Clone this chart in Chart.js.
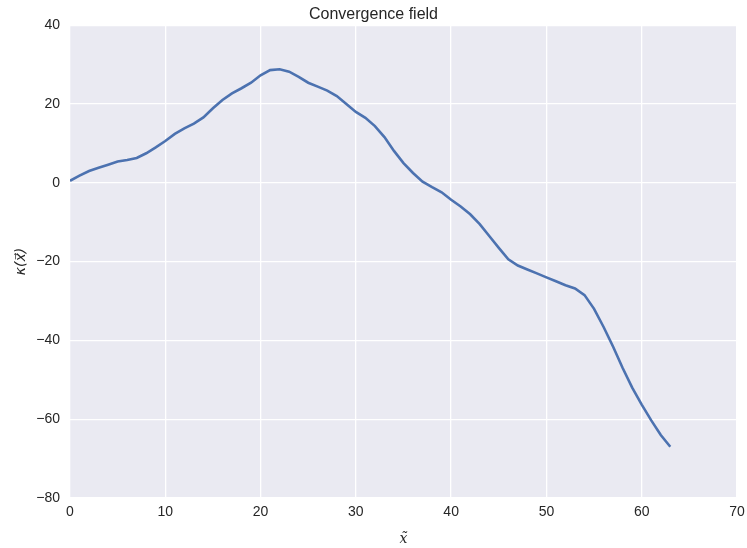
<!DOCTYPE html>
<html>
<head>
<meta charset="utf-8">
<script src="https://cdn.jsdelivr.net/npm/chart.js@4"></script>
<style>
html,body{margin:0;padding:0;background:#fff;}
#wrap{width:747px;height:548px;position:relative;}
</style>
</head>
<body>
<div id="wrap"><canvas id="c" width="747" height="548"></canvas></div>
<script>
const xValues = [0,1,2,3,4,5,6,7,8,9,10,11,12,13,14,15,16,17,18,19,20,21,22,23,24,25,26,27,28,29,30,31,32,33,34,35,36,37,38,39,40,41,42,43,44,45,46,47,48,49,50,51,52,53,54,55,56,57,58,59,60,61,62,63];
const kappa = [0.5,1.8,3,3.8,4.6,5.4,5.8,6.3,7.5,9,10.6,12.4,13.8,15,16.6,18.9,21,22.7,24,25.4,27.3,28.6,28.8,28.2,26.9,25.4,24.4,23.4,22,20,18,16.5,14.4,11.6,8.1,5,2.5,0.3,-1.1,-2.4,-4.3,-6,-8,-10.5,-13.5,-16.5,-19.4,-21,-22,-23,-24,-25,-26,-26.8,-28.5,-32,-36.6,-41.6,-47,-52,-56.3,-60.3,-64,-67];
const xTicks = [0,10,20,30,40,50,60,70];
const yTicks = [-80,-60,-40,-20,0,20,40];
const titleText = "Convergence field";
const xLabel = "x\u0303";
const yLabel = "\u03BA(x\u20D7)";

const bgPlugin = {
  id:'bg',
  beforeDraw(chart){
    const {ctx, chartArea:a} = chart;
    ctx.save();
    ctx.fillStyle='#eaeaf2';
    ctx.fillRect(a.left,a.top,a.right-a.left,a.bottom-a.top);
    ctx.restore();
  }
};

const fmt = v => String(v).replace('-', '\u2212');

new Chart(document.getElementById('c'), {
  type:'line',
  data:{
    datasets:[{
      data: xValues.map((x,i)=>({x:x,y:kappa[i]})),
      borderColor:'#4c72b0',
      borderWidth:2.6,
      pointRadius:0,
      tension:0,
      fill:false
    }]
  },
  options:{
    responsive:false,
    animation:false,
    layout:{padding:{left:0,right:0,top:0,bottom:0}},
    plugins:{
      legend:{display:false},
      tooltip:{enabled:false},
      title:{display:true,text:titleText,color:'#262626',
        font:{family:'Liberation Sans, Arial, sans-serif',size:16,weight:'normal'},
        padding:{top:5,bottom:1}}
    },
    scales:{
      x:{
        type:'linear',min:0,max:70,
        afterBuildTicks(s){s.ticks = xTicks.map(v=>({value:v}));},
        afterFit(s){s.height=50;s.paddingRight=10;s.paddingLeft=0;},
        grid:{color:'#ffffff',lineWidth:1.3,drawTicks:false},
        border:{display:false},
        ticks:{color:'#262626',padding:6,font:{family:'Liberation Sans, Arial, sans-serif',size:14},callback:v=>fmt(v),maxRotation:0},
        title:{display:true,text:xLabel,color:'#262626',font:{family:'DejaVu Serif, serif',size:14,style:'italic'},padding:{top:2,bottom:0}}
      },
      y:{
        min:-80,max:40,
        afterBuildTicks(s){s.ticks = yTicks.map(v=>({value:v}));},
        afterFit(s){s.width=70;},
        grid:{color:'#ffffff',lineWidth:1.3,drawTicks:false},
        border:{display:false},
        ticks:{color:'#262626',padding:10,font:{family:'Liberation Sans, Arial, sans-serif',size:14},callback:v=>fmt(v)},
        title:{display:true,text:yLabel,color:'#262626',font:{family:'DejaVu Sans, sans-serif',size:14,style:'italic'},padding:{top:13,bottom:4}}
      }
    }
  },
  plugins:[bgPlugin]
});
</script>
</body>
</html>
